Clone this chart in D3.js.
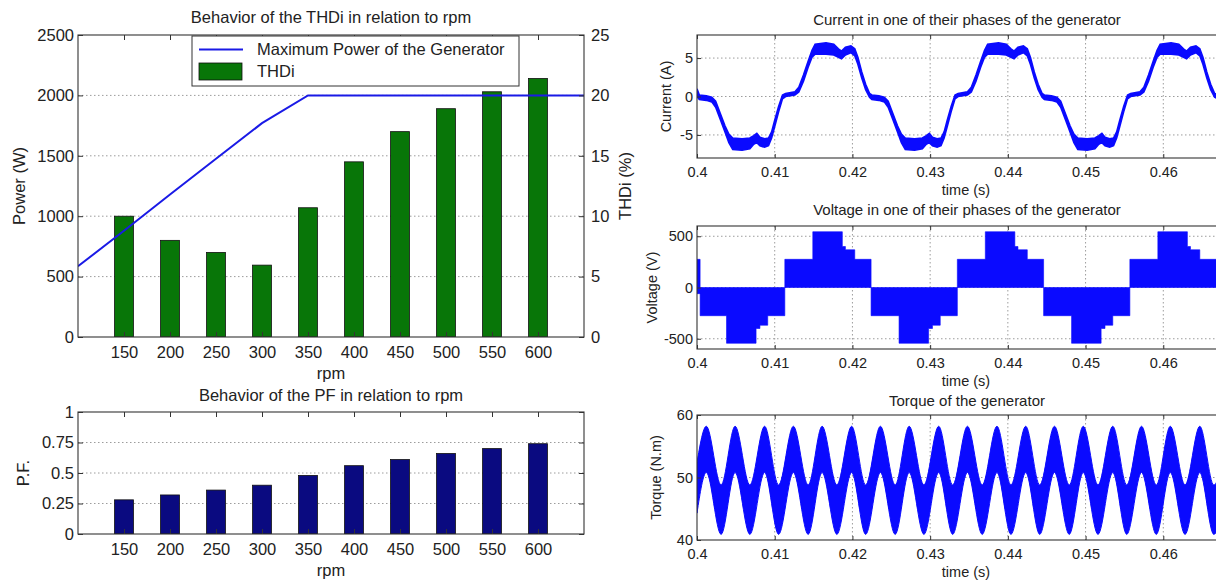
<!DOCTYPE html>
<html>
<head>
<meta charset="utf-8">
<script src="https://cdn.jsdelivr.net/npm/d3@7"></script>
<style>
  body { margin: 0; background: #fff; }
  svg text { font-family: "Liberation Sans", Arial, sans-serif; fill: #222; }
  .grid line { stroke: #9c9c9c; stroke-width: 1; stroke-dasharray: 1.5,2.5; }
  .frame { fill: none; stroke: #333; stroke-width: 1.1; }
</style>
</head>
<body>
<svg id="fig" width="1216" height="581"></svg>
<script>
// ---- data ----
var rpm = [150, 200, 250, 300, 350, 400, 450, 500, 550, 600];
var thdi = [10.0, 8.0, 7.0, 5.95, 10.7, 14.5, 17.0, 18.9, 20.3, 21.4];
var pf = [0.28, 0.32, 0.36, 0.40, 0.48, 0.56, 0.61, 0.66, 0.70, 0.74];
var powerRpm = [100, 150, 200, 250, 300, 350, 400, 450, 500, 550, 600, 650];
var powerW = [585, 880, 1180, 1475, 1770, 2000, 2000, 2000, 2000, 2000, 2000, 2000];

var timeTicks = [0.4, 0.41, 0.42, 0.43, 0.44, 0.45, 0.46];

// current band: [t, low edge, high edge] (A)
var currentBand = [
  [0.4000, 0.0, 1.0], [0.4003, -0.4, 0.2], [0.4012, -0.5, 0.1], [0.4019, -0.7, -0.1],
  [0.4024, -1.4, -0.6], [0.4030, -3.0, -2.2], [0.4036, -4.6, -3.8], [0.4041, -6.0, -4.9],
  [0.4046, -6.9, -5.4], [0.4058, -7.0, -5.5], [0.4068, -6.8, -5.4], [0.4073, -6.2, -5.1],
  [0.4077, -6.0, -4.8], [0.4081, -6.4, -5.3], [0.4087, -6.6, -5.5], [0.4092, -6.4, -5.4],
  [0.4096, -5.4, -4.6], [0.4100, -3.9, -3.1], [0.4105, -2.0, -1.3], [0.4110, -0.3, 0.2],
  [0.4114, 0.0, 0.4], [0.4126, 0.2, 0.6], [0.4131, 0.6, 1.2], [0.4137, 2.0, 2.8],
  [0.4143, 3.8, 4.6], [0.4148, 5.1, 6.0], [0.4152, 5.5, 6.8], [0.4166, 5.5, 7.0],
  [0.4176, 5.4, 6.8], [0.4182, 5.1, 6.2], [0.4186, 4.9, 5.9], [0.4191, 5.4, 6.4],
  [0.4198, 5.7, 6.6], [0.4203, 5.3, 6.2], [0.4207, 4.2, 5.1], [0.4212, 2.4, 3.2],
  [0.4217, 0.9, 1.6], [0.4222, -0.1, 0.4],
  [0.4225, -0.4, 0.2], [0.4234, -0.5, 0.1], [0.4241, -0.7, -0.1], [0.4246, -1.4, -0.6],
  [0.4252, -3.0, -2.2], [0.4258, -4.6, -3.8], [0.4263, -6.0, -4.9], [0.4268, -6.9, -5.4],
  [0.4280, -7.0, -5.5], [0.4290, -6.8, -5.4], [0.4295, -6.2, -5.1], [0.4299, -6.0, -4.8],
  [0.4303, -6.4, -5.3], [0.4309, -6.6, -5.5], [0.4314, -6.4, -5.4], [0.4318, -5.4, -4.6],
  [0.4322, -3.9, -3.1], [0.4327, -2.0, -1.3], [0.4332, -0.3, 0.2], [0.4336, 0.0, 0.4],
  [0.4348, 0.2, 0.6], [0.4353, 0.6, 1.2], [0.4359, 2.0, 2.8], [0.4365, 3.8, 4.6],
  [0.4370, 5.1, 6.0], [0.4374, 5.5, 6.8], [0.4388, 5.5, 7.0], [0.4398, 5.4, 6.8],
  [0.4404, 5.1, 6.2], [0.4408, 4.9, 5.9], [0.4413, 5.4, 6.4], [0.4420, 5.7, 6.6],
  [0.4425, 5.3, 6.2], [0.4429, 4.2, 5.1], [0.4434, 2.4, 3.2], [0.4439, 0.9, 1.6],
  [0.4444, -0.1, 0.4],
  [0.4447, -0.4, 0.2], [0.4456, -0.5, 0.1], [0.4463, -0.7, -0.1], [0.4468, -1.4, -0.6],
  [0.4474, -3.0, -2.2], [0.4480, -4.6, -3.8], [0.4485, -6.0, -4.9], [0.4490, -6.9, -5.4],
  [0.4502, -7.0, -5.5], [0.4512, -6.8, -5.4], [0.4517, -6.2, -5.1], [0.4521, -6.0, -4.8],
  [0.4525, -6.4, -5.3], [0.4531, -6.6, -5.5], [0.4536, -6.4, -5.4], [0.4540, -5.4, -4.6],
  [0.4544, -3.9, -3.1], [0.4549, -2.0, -1.3], [0.4554, -0.3, 0.2], [0.4558, 0.0, 0.4],
  [0.4570, 0.2, 0.6], [0.4575, 0.6, 1.2], [0.4581, 2.0, 2.8], [0.4587, 3.8, 4.6],
  [0.4592, 5.1, 6.0], [0.4596, 5.5, 6.8], [0.4610, 5.5, 7.0], [0.4620, 5.4, 6.8],
  [0.4626, 5.1, 6.2], [0.4630, 4.9, 5.9], [0.4635, 5.4, 6.4], [0.4642, 5.7, 6.6],
  [0.4647, 5.3, 6.2], [0.4651, 4.2, 5.1], [0.4656, 2.4, 3.2], [0.4661, 0.9, 1.6],
  [0.4666, -0.1, 0.4], [0.4672, -0.4, 0.2]
];

// voltage steps: [t, low, high] (V), held until next t
var voltageSteps = [
  [0.4000, -60, 275], [0.4004, -275, 0], [0.4038, -544, 0], [0.4076, -400, 0],
  [0.4081, -368, 0], [0.4091, -275, 0], [0.4113, 0, 275], [0.4149, 0, 544],
  [0.4187, 0, 400], [0.4191, 0, 368], [0.4203, 0, 275],
  [0.4224, -275, 0], [0.4260, -544, 0], [0.4298, -400, 0], [0.4303, -368, 0],
  [0.4313, -275, 0], [0.4335, 0, 275], [0.4371, 0, 544], [0.4409, 0, 400],
  [0.4413, 0, 368], [0.4425, 0, 275],
  [0.4446, -275, 0], [0.4482, -544, 0], [0.4520, -400, 0], [0.4525, -368, 0],
  [0.4535, -275, 0], [0.4557, 0, 275], [0.4593, 0, 544], [0.4631, 0, 400],
  [0.4635, 0, 368], [0.4647, 0, 275], [0.4669, -275, 0], [0.4680, -275, 0]
];

// torque band: [t, low edge, high edge] (N.m)
var torqueBand = [
  [0.4000, 44.3, 52.4], [0.4012, 50.8, 58.2], [0.4031, 40.9, 48.8], [0.4049, 50.8, 58.2],
  [0.4068, 40.9, 48.8], [0.4087, 50.8, 58.2], [0.4105, 40.9, 48.8], [0.4124, 50.8, 58.2],
  [0.4143, 40.9, 48.8], [0.4161, 50.8, 58.2], [0.4180, 40.9, 48.8], [0.4199, 50.8, 58.2],
  [0.4217, 40.9, 48.8], [0.4236, 50.8, 58.2], [0.4255, 40.9, 48.8], [0.4273, 50.8, 58.2],
  [0.4292, 40.9, 48.8], [0.4311, 50.8, 58.2], [0.4329, 40.9, 48.8], [0.4348, 50.8, 58.2],
  [0.4367, 40.9, 48.8], [0.4386, 50.8, 58.2], [0.4404, 40.9, 48.8], [0.4423, 50.8, 58.2],
  [0.4441, 40.9, 48.8], [0.4460, 50.8, 58.2], [0.4479, 40.9, 48.8], [0.4497, 50.8, 58.2],
  [0.4516, 40.9, 48.8], [0.4535, 50.8, 58.2], [0.4553, 40.9, 48.8], [0.4572, 50.8, 58.2],
  [0.4591, 40.9, 48.8], [0.4609, 50.8, 58.2], [0.4628, 40.9, 48.8], [0.4647, 50.8, 58.2],
  [0.4665, 40.9, 48.8], [0.4684, 50.8, 58.2]
];

// ---- drawing ----
var svg = d3.select("#fig");
var clipCount = 0;
var FONT = "'Liberation Sans', Arial, sans-serif";
var plain = function (v) { return String(v); };

function panel(o) {
  var p = { o: o };
  p.x = d3.scaleLinear().domain(o.xDomain).range([o.left, o.right]);
  p.y = d3.scaleLinear().domain(o.yDomain).range([o.bottom, o.top]);
  p.g = svg.append("g");
  var grid = p.g.append("g").attr("class", "grid");
  (o.xGrid || []).forEach(function (v) {
    grid.append("line").attr("x1", p.x(v)).attr("x2", p.x(v)).attr("y1", o.top).attr("y2", o.bottom);
  });
  (o.yGrid || []).forEach(function (v) {
    grid.append("line").attr("x1", o.left).attr("x2", o.right).attr("y1", p.y(v)).attr("y2", p.y(v));
  });
  var id = "clip" + (clipCount++);
  svg.append("clipPath").attr("id", id).append("rect")
    .attr("x", o.left).attr("y", o.top)
    .attr("width", o.right - o.left).attr("height", o.bottom - o.top);
  p.plot = p.g.append("g").attr("clip-path", "url(#" + id + ")");
  return p;
}

function axes(p) {
  var o = p.o;
  var a = p.g.append("g");
  a.append("g").attr("transform", "translate(0," + o.bottom + ")")
    .call(d3.axisBottom(p.x).tickValues(o.xTicks).tickSize(-o.tick).tickPadding(o.xPad).tickFormat(plain));
  a.append("g").attr("transform", "translate(0," + o.top + ")")
    .call(d3.axisTop(p.x).tickValues(o.xTicks).tickSize(-o.tick).tickFormat(""));
  a.append("g").attr("transform", "translate(" + o.left + ",0)")
    .call(d3.axisLeft(p.y).tickValues(o.yTicks).tickSize(-o.tick).tickPadding(o.yPad).tickFormat(plain));
  var yr = o.yRight ? d3.scaleLinear().domain(o.yRight.domain).range([o.bottom, o.top]) : p.y;
  a.append("g").attr("transform", "translate(" + o.right + ",0)")
    .call(d3.axisRight(yr).tickValues(o.yRight ? o.yRight.ticks : o.yTicks).tickSize(-o.tick)
      .tickPadding(o.yPad + 3).tickFormat(o.yRight ? plain : ""));
  a.selectAll(".domain").remove();
  a.selectAll(".tick line").attr("stroke", "#333");
  a.selectAll("text").attr("font-size", o.fs).attr("font-family", FONT).attr("fill", "#222");
  p.g.append("rect").attr("class", "frame")
    .attr("x", o.left).attr("y", o.top)
    .attr("width", o.right - o.left).attr("height", o.bottom - o.top);
}

function label(txt, x, y, fs, rot) {
  svg.append("text").text(txt)
    .attr("transform", "translate(" + x + "," + y + ")" + (rot ? " rotate(-90)" : ""))
    .attr("text-anchor", "middle").attr("dy", "0.35em")
    .attr("font-size", fs);
}

// ---------- THDi / power chart ----------
var leftFs = 16.5;
var p1 = panel({
  left: 78, right: 584, top: 35, bottom: 337,
  xDomain: [100, 650], yDomain: [0, 2500],
  xTicks: rpm, yTicks: [0, 500, 1000, 1500, 2000, 2500],
  yGrid: [500, 1000, 1500, 2000],
  yRight: { domain: [0, 25], ticks: [0, 5, 10, 15, 20, 25] },
  tick: 5, xPad: 9, yPad: 4, fs: leftFs
});
var yThd = d3.scaleLinear().domain([0, 25]).range([337, 35]);
var barW = p1.x(120.5) - p1.x(100);

p1.plot.selectAll("rect.thd").data(rpm).enter().append("rect")
  .attr("x", function (d) { return p1.x(d) - barW / 2; })
  .attr("width", barW)
  .attr("y", function (d, i) { return yThd(thdi[i]); })
  .attr("height", function (d, i) { return yThd(0) - yThd(thdi[i]); })
  .attr("fill", "#087608").attr("stroke", "#111").attr("stroke-width", 0.8);

p1.plot.append("path")
  .datum(powerRpm.map(function (r, i) { return [r, powerW[i]]; }))
  .attr("d", d3.line().x(function (d) { return p1.x(d[0]); }).y(function (d) { return p1.y(d[1]); }))
  .attr("fill", "none").attr("stroke", "#1a1ae6").attr("stroke-width", 2);
axes(p1);

// legend
var lg = svg.append("g");
lg.append("rect").attr("x", 192).attr("y", 36).attr("width", 327).attr("height", 50)
  .attr("fill", "#fff").attr("stroke", "#333").attr("stroke-width", 1);
lg.append("line").attr("x1", 199).attr("x2", 243).attr("y1", 49.5).attr("y2", 49.5)
  .attr("stroke", "#1a1ae6").attr("stroke-width", 2);
lg.append("rect").attr("x", 199).attr("y", 63).attr("width", 43).attr("height", 17)
  .attr("fill", "#087608").attr("stroke", "#111").attr("stroke-width", 0.8);
lg.append("text").text("Maximum Power of the Generator").attr("x", 257).attr("y", 49.5)
  .attr("dy", "0.35em").attr("font-size", leftFs);
lg.append("text").text("THDi").attr("x", 257).attr("y", 71.5)
  .attr("dy", "0.35em").attr("font-size", leftFs);

label("Behavior of the THDi in relation to rpm", 331, 17, leftFs);
label("rpm", 331, 373, leftFs);
label("Power (W)", 19, 186, leftFs, true);
label("THDi (%)", 625, 186, leftFs, true);

// ---------- PF chart ----------
var p2 = panel({
  left: 78, right: 584, top: 412, bottom: 534,
  xDomain: [100, 650], yDomain: [0, 1],
  xTicks: rpm, yTicks: [0, 0.25, 0.5, 0.75, 1],
  yGrid: [0.25, 0.5, 0.75],
  tick: 5, xPad: 9, yPad: 4, fs: leftFs
});
p2.plot.selectAll("rect.pf").data(rpm).enter().append("rect")
  .attr("x", function (d) { return p2.x(d) - barW / 2; })
  .attr("width", barW)
  .attr("y", function (d, i) { return p2.y(pf[i]); })
  .attr("height", function (d, i) { return p2.y(0) - p2.y(pf[i]); })
  .attr("fill", "#0a0a80").attr("stroke", "#111").attr("stroke-width", 0.8);
axes(p2);
label("Behavior of the PF in relation to rpm", 331, 395, leftFs);
label("rpm", 331, 570, leftFs);
label("P.F.", 23, 473, leftFs, true);

// ---------- waveforms ----------
var rightFs = 14.5, titleFs = 15;
var BLUE = "#0a0aff";

function wavePanel(top, bottom, yDomain, yTicks, yGrid) {
  return panel({
    left: 697, right: 1241, top: top, bottom: bottom,
    xDomain: [0.4, 0.47], yDomain: yDomain,
    xTicks: timeTicks, yTicks: yTicks,
    xGrid: [0.41, 0.42, 0.43, 0.44, 0.45, 0.46], yGrid: yGrid,
    tick: 4, xPad: 9, yPad: 4, fs: rightFs
  });
}

function band(p, data, curve, sw) {
  p.plot.append("path").datum(data)
    .attr("d", d3.area().curve(curve)
      .x(function (d) { return p.x(d[0]); })
      .y0(function (d) { return p.y(d[1]); })
      .y1(function (d) { return p.y(d[2]); }))
    .attr("fill", BLUE).attr("stroke", BLUE).attr("stroke-width", sw);
}

var pc = wavePanel(35, 158, [-8, 8], [-5, 0, 5], [-5, 0, 5]);
band(pc, currentBand, d3.curveLinear, 1.6);
axes(pc);
label("Current in one of their phases of the generator", 967, 20, titleFs);
label("time (s)", 966, 190, rightFs);
label("Current (A)", 666, 96.5, rightFs, true);

var pv = wavePanel(226, 349, [-600, 600], [-500, 0, 500], [-500, 0, 500]);
band(pv, voltageSteps, d3.curveStepAfter, 0.6);
axes(pv);
label("Voltage in one of their phases of the generator", 967, 210, titleFs);
label("time (s)", 966, 381, rightFs);
label("Voltage (V)", 652, 287.5, rightFs, true);

var pt = wavePanel(415, 540, [40, 60], [40, 50, 60], [50]);
band(pt, torqueBand, d3.curveMonotoneX, 1);
axes(pt);
label("Torque of the generator", 967, 401, titleFs);
label("time (s)", 966, 572, rightFs);
label("Torque (N.m)", 656, 477.5, rightFs, true);
</script>
</body>
</html>
